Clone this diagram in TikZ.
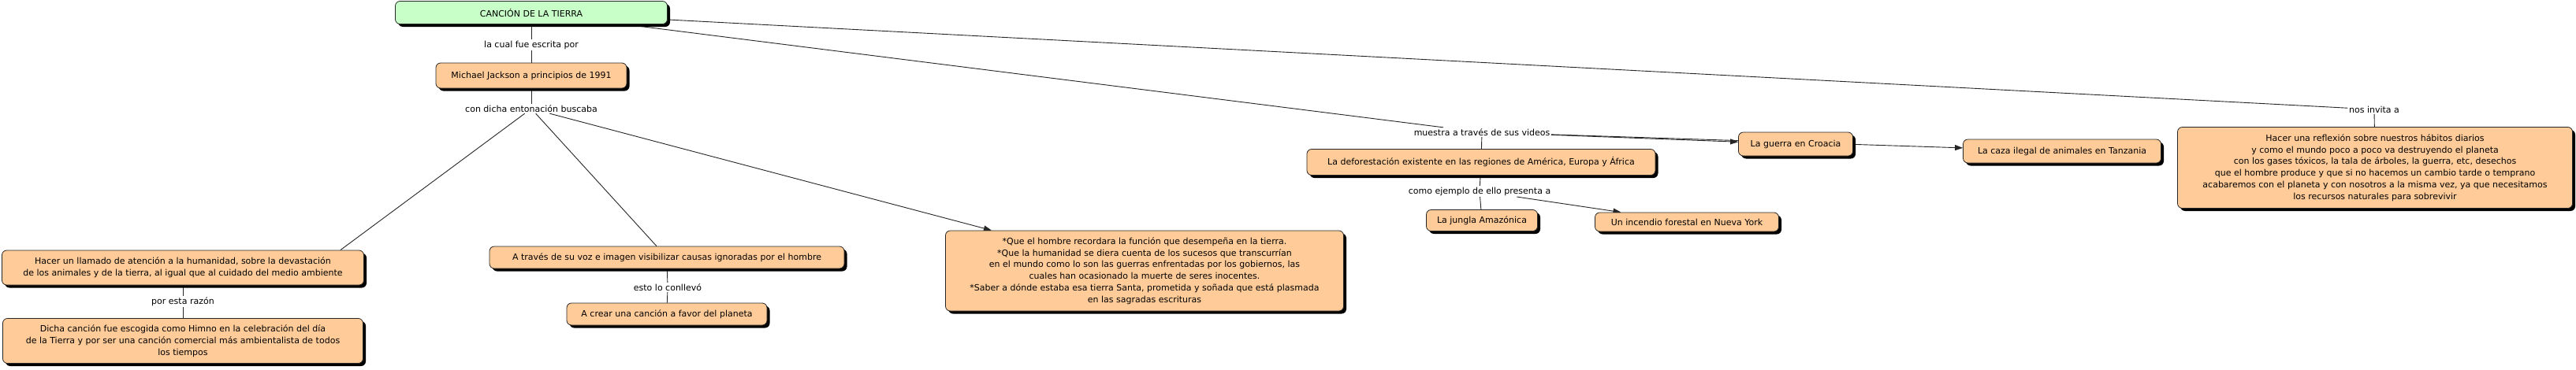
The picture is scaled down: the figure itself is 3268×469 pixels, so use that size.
\documentclass[tikz,border=0pt]{standalone}
\usepackage{fontspec}
\setmainfont{DejaVu Sans}
\usetikzlibrary{shadows,arrows.meta}
\pgfdeclarelayer{back}
\pgfdeclarelayer{bg}
\pgfsetlayers{back,bg,main}
\definecolor{conc}{RGB}{255,204,153}
\definecolor{rootc}{RGB}{200,255,200}
\newcommand\bxfont{\fontsize{11}{14.8}\selectfont}
\tikzset{
  concept/.style={draw=black!85, fill=conc, rounded corners=6pt, align=center,
    font=\bxfont, inner sep=3pt, line width=0.8pt,
    drop shadow={shadow xshift=3.5pt, shadow yshift=-3.5pt, fill=black, opacity=1}},
  rootbox/.style={concept, fill=rootc},
  linkph/.style={font=\bxfont, inner sep=1.5pt, align=center},
  edge/.style={draw=black!85, line width=0.9pt},
  arr/.style={edge, -{Triangle[length=10pt,width=7pt]}}
}
\begin{document}
\begin{tikzpicture}[x=1pt,y=-1pt]
\begin{pgfonlayer}{back}
\fill[white] (0,0) rectangle (3268,469);
\end{pgfonlayer}
\useasboundingbox (0,0) rectangle (3268,469);
% concepts
\node[rootbox, minimum width=345pt, minimum height=29pt] (root) at (674,16) {CANCIÓN DE LA TIERRA};
\node[concept, minimum width=242pt, minimum height=32pt] (mj) at (674,96) {Michael Jackson a principios de 1991};
\node[concept, minimum width=459pt, minimum height=44pt] (b1) at (232,340) {Hacer un llamado de atención a la humanidad, sobre la devastación\\de los animales y de la tierra, al igual que al cuidado del medio ambiente};
\node[concept, minimum width=457pt, minimum height=57pt] (b2) at (232,433) {Dicha canción fue escogida como Himno en la celebración del día\\de la Tierra y por ser una canción comercial más ambientalista de todos\\los tiempos};
\node[concept, minimum width=450pt, minimum height=28pt] (b3) at (846,327) {A través de su voz e imagen visibilizar causas ignoradas por el hombre};
\node[concept, minimum width=254pt, minimum height=28pt] (b4) at (846,399) {A crear una canción a favor del planeta};
\node[concept, minimum width=505pt, minimum height=102pt] (b5) at (1452,344) {*Que el hombre recordara la función que desempeña en la tierra.\\*Que la humanidad se diera cuenta de los sucesos que transcurrían\\en el mundo como lo son las guerras enfrentadas por los gobiernos, las\\cuales han ocasionado la muerte de seres inocentes.\\*Saber a dónde estaba esa tierra Santa, prometida y soñada que está plasmada\\en las sagradas escrituras};
\node[concept, minimum width=442pt, minimum height=33pt] (b6) at (1879,206) {La deforestación existente en las regiones de América, Europa y África};
\node[concept, minimum width=141pt, minimum height=27pt] (b7) at (1880,280) {La jungla Amazónica};
\node[concept, minimum width=233pt, minimum height=24pt] (b8) at (2140,282) {Un incendio forestal en Nueva York};
\node[concept, minimum width=145pt, minimum height=30pt] (b9) at (2278,183) {La guerra en Croacia};
\node[concept, minimum width=251pt, minimum height=30pt] (b10) at (2616,192) {La caza ilegal de animales en Tanzania};
\node[concept, minimum width=501pt, minimum height=103pt] (b11) at (3013,213) {Hacer una reflexión sobre nuestros hábitos diarios\\y como el mundo poco a poco va destruyendo el planeta\\con los gases tóxicos, la tala de árboles, la guerra, etc, desechos\\que el hombre produce y que si no hacemos un cambio tarde o temprano\\acabaremos con el planeta y con nosotros a la misma vez, ya que necesitamos\\los recursos naturales para sobrevivir};
% linking phrases
\node[linkph] (l1) at (674,57) {la cual fue escrita por};
\node[linkph] (l2) at (674,138) {con dicha entonación buscaba};
\node[linkph] (l3) at (232,383) {por esta razón};
\node[linkph] (l4) at (847,365) {esto lo conllevó};
\node[linkph] (l5) at (1880,168) {muestra a través de sus videos};
\node[linkph] (l6) at (1877,243) {como ejemplo de ello presenta a};
\node[linkph] (l7) at (3012,139) {nos invita a};
% connectors
\begin{pgfonlayer}{bg}
\draw[edge] (root) -- (l1);
\draw[edge] (l1) -- (mj);
\draw[edge] (mj) -- (l2);
\draw[edge] (l2) -- ([xshift=-30pt]b1.north east);
\draw[edge] (l2) -- (b3);
\draw[arr] (l2) -- (b5);
\draw[edge] (b1) -- (l3);
\draw[edge] (l3) -- (b2);
\draw[edge] (b3) -- (l4);
\draw[edge] (l4) -- (b4);
\draw[edge] (root) -- (l5);
\draw[edge] (l5) -- (b6);
\draw[arr] (l5) -- (b9);
\draw[arr] (l5) -- (b10);
\draw[edge] (b6) -- (l6);
\draw[edge] (l6) -- (b7);
\draw[arr] (l6) -- (b8);
\draw[edge] (root) -- (l7);
\draw[edge] (l7) -- (b11);
\end{pgfonlayer}
\end{tikzpicture}
\end{document}
